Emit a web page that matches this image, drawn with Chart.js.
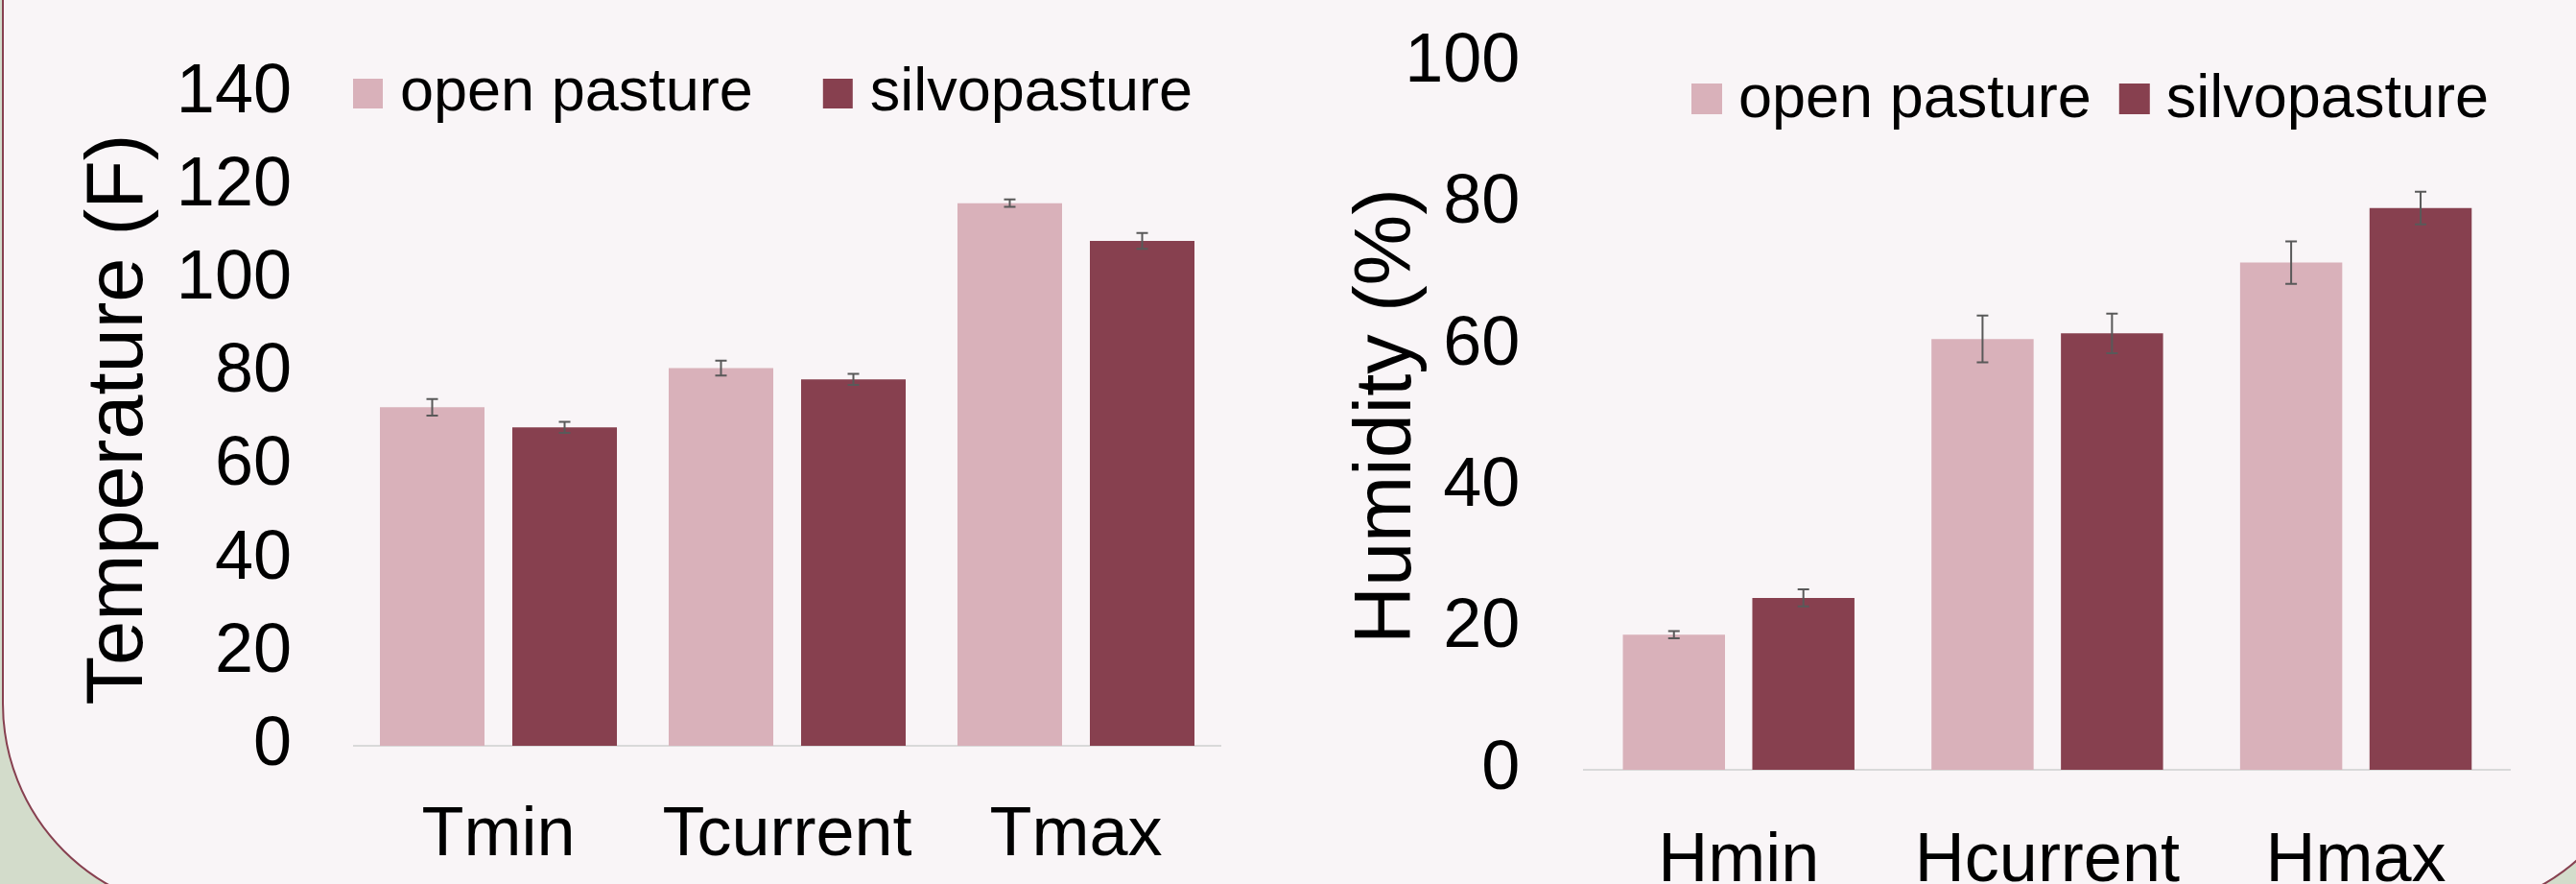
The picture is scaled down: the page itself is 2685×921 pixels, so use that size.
<!DOCTYPE html>
<html>
<head>
<meta charset="utf-8">
<script src="https://cdn.jsdelivr.net/npm/chart.js@4.4.0/dist/chart.umd.min.js"></script>
<style>
  html, body { margin: 0; padding: 0; width: 2685px; height: 921px; overflow: hidden; background: #D3DCCB; }
  #panel { position: absolute; left: 2px; top: -400px; width: 2759px; height: 1351px; box-sizing: border-box;
           border: 2px solid #874050; border-radius: 218px; background: #F9F5F7; }
  .wrap { position: absolute; top: 0; height: 921px; }
  #w1 { left: 0; width: 1340px; }
  #w2 { left: 1340px; width: 1345px; }
</style>
</head>
<body>
<div id="panel"></div>
<div class="wrap" id="w1"><canvas id="c1"></canvas></div>
<div class="wrap" id="w2"><canvas id="c2"></canvas></div>
<script>
// ---- data ----
const seriesNames = ['open pasture', 'silvopasture'];
const tempCategories = ['Tmin', 'Tcurrent', 'Tmax'];
const tempOpen = [72.6, 81.0, 116.4];
const tempSilvo = [68.3, 78.6, 108.3];
const tempOpenErr = [1.8, 1.6, 0.8];
const tempSilvoErr = [1.2, 1.2, 1.7];
const tempTicks = [0, 20, 40, 60, 80, 100, 120, 140];

const humCategories = ['Hmin', 'Hcurrent', 'Hmax'];
const humOpen = [19.1, 60.9, 71.7];
const humSilvo = [24.3, 61.7, 79.4];
const humOpenErr = [0.5, 3.3, 3.0];
const humSilvoErr = [1.2, 2.8, 2.3];
const humTicks = [0, 20, 40, 60, 80, 100];

const COLOR_OPEN = '#D9B1BA';
const COLOR_SILVO = '#87404F';
const FONT = '"Liberation Sans", Arial, sans-serif';

Chart.defaults.color = '#000';
Chart.defaults.font.family = FONT;

const errorBarPlugin = {
  id: 'errorBars',
  afterDatasetsDraw(chart) {
    const ctx = chart.ctx, y = chart.scales.y;
    ctx.save();
    ctx.strokeStyle = '#595959';
    ctx.lineWidth = 2;
    chart.data.datasets.forEach((ds, i) => {
      const meta = chart.getDatasetMeta(i);
      meta.data.forEach((bar, j) => {
        const v = ds.data[j], e = ds.errors[j];
        const t = y.getPixelForValue(v + e), b = y.getPixelForValue(v - e);
        const x = bar.x, c = 6;
        ctx.beginPath();
        ctx.moveTo(x, t); ctx.lineTo(x, b);
        ctx.moveTo(x - c, t); ctx.lineTo(x + c, t);
        ctx.moveTo(x - c, b); ctx.lineTo(x + c, b);
        ctx.stroke();
      });
    });
    ctx.restore();
  }
};

const legendPlugin = {
  id: 'manualLegend',
  afterDraw(chart, args, opts) {
    const ctx = chart.ctx;
    ctx.save();
    ctx.font = opts.fontSize + 'px ' + FONT;
    ctx.textBaseline = 'middle';
    ctx.textAlign = 'left';
    let x = opts.x;
    chart.data.datasets.forEach(ds => {
      ctx.fillStyle = ds.backgroundColor;
      ctx.fillRect(x, opts.boxY - opts.box / 2, opts.box, opts.box);
      x += opts.box + opts.textGap;
      ctx.fillStyle = '#000';
      ctx.fillText(ds.label, x, opts.textY);
      x += ctx.measureText(ds.label).width + opts.itemGap;
    });
    ctx.restore();
  }
};

function makeChart(id, cats, openVals, silvoVals, openErr, silvoErr, ticks, title, L) {
  return new Chart(document.getElementById(id), {
    type: 'bar',
    data: {
      labels: cats,
      datasets: [
        { label: seriesNames[0], data: openVals, errors: openErr, backgroundColor: COLOR_OPEN,
          barPercentage: L.barPct, categoryPercentage: L.catPct },
        { label: seriesNames[1], data: silvoVals, errors: silvoErr, backgroundColor: COLOR_SILVO,
          barPercentage: L.barPct, categoryPercentage: L.catPct }
      ]
    },
    options: {
      responsive: true,
      maintainAspectRatio: false,
      animation: false,
      events: [],
      layout: { padding: { left: L.padLeft, right: L.padRight, top: L.padTop, bottom: 0 } },
      plugins: {
        legend: { display: false },
        tooltip: { enabled: false },
        manualLegend: L.legend
      },
      scales: {
        x: {
          grid: { display: false },
          border: { display: true, color: '#D9D9D9', width: 2 },
          ticks: { font: { size: 72 }, padding: L.xPad, maxRotation: 0 },
          afterFit(s) { s.height = L.xHeight; }
        },
        y: {
          min: ticks[0], max: ticks[ticks.length - 1],
          afterBuildTicks(s) { s.ticks = ticks.map(v => ({ value: v })); },
          grid: { display: false, drawTicks: true, tickLength: L.yPad },
          border: { display: false },
          ticks: { font: { size: 72 }, padding: 0 },
          title: { display: true, text: title, font: { size: 83 }, padding: { top: 0, bottom: 0 } },
          afterFit(s) { s.width = L.yWidth; }
        }
      }
    },
    plugins: [errorBarPlugin, legendPlugin]
  });
}

makeChart('c1', tempCategories, tempOpen, tempSilvo, tempOpenErr, tempSilvoErr, tempTicks, 'Temperature (F)', {
  padLeft: 75, padRight: 68, padTop: 97, xHeight: 144, yWidth: 294, yPad: 65, xPad: 43,
  barPct: 0.79, catPct: 0.917,
  legend: { x: 368, boxY: 97.5, textY: 98, box: 31, textGap: 18, itemGap: 73, fontSize: 63 }
});

makeChart('c2', humCategories, humOpen, humSilvo, humOpenErr, humSilvoErr, humTicks, 'Humidity (%)', {
  padLeft: 57, padRight: 68.6, padTop: 65, xHeight: 119, yWidth: 254.4, yPad: 67, xPad: 45,
  barPct: 0.789, catPct: 0.839,
  legend: { x: 423, boxY: 103, textY: 105, box: 32, textGap: 17, itemGap: 29, fontSize: 63 }
});
</script>
</body>
</html>
